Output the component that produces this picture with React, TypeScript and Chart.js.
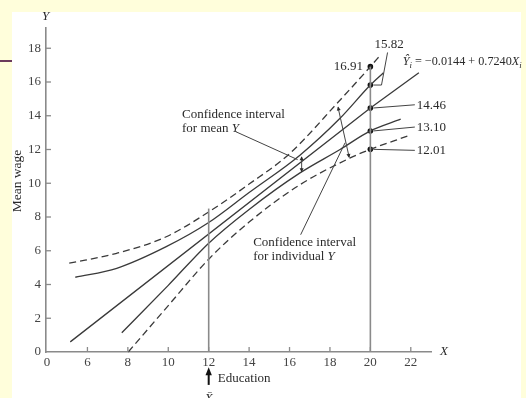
import React, { useEffect, useRef } from 'react';
import { Chart, registerables } from 'chart.js';

Chart.register(...registerables);

// ---------- data ----------
const xTickValues = [4, 6, 8, 10, 12, 14, 16, 18, 20, 22];
const xTickLabels = ['0', '6', '8', '10', '12', '14', '16', '18', '20', '22'];
const yTickValues = [0, 2, 4, 6, 8, 10, 12, 14, 16, 18];

// fitted line  Ŷ = -0.0144 + 0.7240 X (as drawn)
const regressionX = [5.15, 20, 22.4];
const regressionY = [0.6, 14.46, 16.55];

// confidence band for mean Y (solid)
const meanUpperX = [5.4, 7.45, 9.9, 12, 14, 16.5, 18.5, 20, 20.65];
const meanUpperY = [4.43, 4.96, 6.24, 7.67, 9.45, 11.65, 13.85, 15.82, 16.55];
const meanLowerX = [7.7, 10, 12, 14, 16.5, 18.5, 20, 21.5];
const meanLowerY = [1.14, 3.95, 6.45, 8.45, 10.6, 12.0, 13.1, 13.8];

// confidence band for individual Y (dashed)
const indUpperX = [5.1, 7.45, 9.9, 12, 14, 16, 18.4, 20, 20.5];
const indUpperY = [5.26, 5.85, 6.83, 8.3, 9.95, 11.75, 14.8, 16.91, 17.6];
const indLowerX = [8.02, 10, 12, 14, 16.5, 19, 20, 21.85];
const indLowerY = [0.0, 2.75, 5.5, 7.7, 9.9, 11.5, 12.01, 12.8];

// values at X = 20
const xAt = 20;
const atValues = [16.91, 15.82, 14.46, 13.1, 12.01];
const atLabels = ['16.91', '15.82', '14.46', '13.10', '12.01'];

// mean of X
const xBar = 12;
const xBarLineTop = 8.5;

const FONT = '"Liberation Serif", "DejaVu Serif", serif';
const TEXT = '#2a2a2a';
const LINE = '#3a3a3a';
const AXIS = '#8a8a8a';

const pts = (xs: number[], ys: number[]) => xs.map((x, i) => ({ x, y: ys[i] }));

type Part = [string, boolean?, boolean?]; // text, italic, subscript

function drawRich(ctx: CanvasRenderingContext2D, parts: Part[], x: number, y: number, size: number, align: 'left' | 'right' = 'left') {
  const fontFor = (it?: boolean, sub?: boolean) => `${it ? 'italic ' : ''}${sub ? size * 0.72 : size}px ${FONT}`;
  let total = 0;
  for (const [t, it, sub] of parts) { ctx.font = fontFor(it, sub); total += ctx.measureText(t).width; }
  let cx = align === 'left' ? x : x - total;
  ctx.textAlign = 'left';
  ctx.textBaseline = 'middle';
  for (const [t, it, sub] of parts) {
    ctx.font = fontFor(it, sub);
    ctx.fillText(t, cx, sub ? y + size * 0.3 : y);
    cx += ctx.measureText(t).width;
  }
}

function arrowHead(ctx: CanvasRenderingContext2D, tx: number, ty: number, fx: number, fy: number, len: number, half: number) {
  const a = Math.atan2(ty - fy, tx - fx);
  ctx.beginPath();
  ctx.moveTo(tx, ty);
  ctx.lineTo(tx - len * Math.cos(a) + half * Math.sin(a), ty - len * Math.sin(a) - half * Math.cos(a));
  ctx.lineTo(tx - len * Math.cos(a) - half * Math.sin(a), ty - len * Math.sin(a) + half * Math.cos(a));
  ctx.closePath();
  ctx.fill();
}

const backgroundPlugin = {
  id: 'slideBackground',
  beforeDraw(chart: any) {
    const ctx = chart.ctx as CanvasRenderingContext2D;
    ctx.save();
    ctx.fillStyle = '#fffedb';
    ctx.fillRect(0, 0, chart.width, chart.height);
    ctx.fillStyle = '#ffffff';
    ctx.fillRect(12, 12, 509, chart.height - 12);
    ctx.strokeStyle = '#6b3a5c';
    ctx.lineWidth = 2;
    ctx.beginPath();
    ctx.moveTo(0, 61);
    ctx.lineTo(12, 61);
    ctx.stroke();
    ctx.restore();
  },
};

const annotationPlugin = {
  id: 'figureNotes',
  afterDatasetsDraw(chart: any) {
    const ctx = chart.ctx as CanvasRenderingContext2D;
    const sx = chart.scales.x;
    const sy = chart.scales.y;
    const X = (v: number) => sx.getPixelForValue(v);
    const Y = (v: number) => sy.getPixelForValue(v);
    const seg = (pairs: number[][]) => {
      ctx.beginPath();
      pairs.forEach(([a, b], i) => (i ? ctx.lineTo(X(a), Y(b)) : ctx.moveTo(X(a), Y(b))));
      ctx.stroke();
    };
    ctx.save();
    // inner tick marks
    ctx.strokeStyle = AXIS;
    ctx.lineWidth = 1.3;
    yTickValues.slice(1).forEach((v) => {
      ctx.beginPath(); ctx.moveTo(sx.left, Y(v)); ctx.lineTo(sx.left + 5, Y(v)); ctx.stroke();
    });
    xTickValues.slice(1).forEach((v) => {
      ctx.beginPath(); ctx.moveTo(X(v), sy.bottom); ctx.lineTo(X(v), sy.bottom - 5); ctx.stroke();
    });

    ctx.fillStyle = TEXT;
    ctx.strokeStyle = '#444';
    ctx.lineWidth = 1;

    // axis letters
    drawRich(ctx, [['Y', true]], X(3.95) - 4, Y(19.85), 13);
    drawRich(ctx, [['X', true]], X(23.45), Y(0.05), 13);

    // labels at X = 20
    drawRich(ctx, [[atLabels[0]]], X(19.64), Y(16.93), 13, 'right');
    drawRich(ctx, [[atLabels[1]]], X(20.2), Y(18.2), 13);
    seg([[20.85, 17.75], [20.55, 15.82], [20.15, 15.82]]);
    drawRich(ctx, [[atLabels[2]]], X(22.3), Y(14.6), 13);
    seg([[20.15, 14.46], [22.2, 14.65]]);
    drawRich(ctx, [[atLabels[3]]], X(22.3), Y(13.28), 13);
    seg([[20.15, 13.1], [22.2, 13.33]]);
    drawRich(ctx, [[atLabels[4]]], X(22.3), Y(11.95), 13);
    seg([[20.15, 12.01], [22.2, 11.95]]);

    // equation
    drawRich(ctx, [['Ŷ', true], ['i', true, true], [' = −0.0144 + 0.7240'], ['X', true], ['i', true, true]], X(21.6), Y(17.2), 12.2);

    // confidence interval for mean Y
    drawRich(ctx, [['Confidence interval']], X(10.68), Y(14.05), 13);
    drawRich(ctx, [['for mean '], ['Y', true]], X(10.68), Y(13.25), 13);
    seg([[13.35, 13.05], [16.4, 11.4]]);
    seg([[16.6, 11.55], [16.6, 10.7]]);
    arrowHead(ctx, X(16.6), Y(11.6), X(16.6), Y(11.2), 4, 2);
    arrowHead(ctx, X(16.6), Y(10.65), X(16.6), Y(11.0), 4, 2);

    // confidence interval for individual Y
    drawRich(ctx, [['Confidence interval']], X(14.2), Y(6.46), 13);
    drawRich(ctx, [['for individual '], ['Y', true]], X(14.2), Y(5.63), 13);
    seg([[16.55, 6.95], [18.75, 12.4]]);
    seg([[18.4, 14.5], [18.95, 11.55]]);
    arrowHead(ctx, X(18.4), Y(14.55), X(18.47), Y(14.1), 4, 2);
    arrowHead(ctx, X(18.95), Y(11.5), X(18.88), Y(11.95), 4, 2);

    // Education / X-bar marker
    ctx.save();
    ctx.strokeStyle = '#111';
    ctx.lineWidth = 2;
    ctx.beginPath(); ctx.moveTo(X(xBar), Y(-1.95)); ctx.lineTo(X(xBar), Y(-1.2)); ctx.stroke();
    ctx.fillStyle = '#111';
    arrowHead(ctx, X(xBar), Y(-0.9), X(xBar), Y(-1.5), 8, 3.2);
    ctx.restore();
    ctx.fillStyle = TEXT;
    drawRich(ctx, [['Education']], X(12.45), Y(-1.55), 13);
    drawRich(ctx, [['X̄', true]], X(xBar) - 4, Y(-2.75), 13);

    // y axis title
    ctx.save();
    ctx.translate(17, 181);
    ctx.rotate(-Math.PI / 2);
    ctx.font = `13.5px ${FONT}`;
    ctx.textAlign = 'center';
    ctx.textBaseline = 'middle';
    ctx.fillText('Mean wage', 0, 0);
    ctx.restore();

    ctx.restore();
  },
};

export default function App() {
  const ref = useRef<HTMLCanvasElement>(null);
  useEffect(() => {
    document.body.style.margin = '0';
    const base = { showLine: true, pointRadius: 0, borderColor: LINE, borderWidth: 1.3, clip: false as any };
    const chart = new Chart(ref.current!, {
      type: 'scatter',
      data: {
        datasets: [
          { ...base, data: [{ x: xBar, y: 0 }, { x: xBar, y: xBarLineTop }], borderColor: AXIS, borderWidth: 1.6 },
          { ...base, data: [{ x: xAt, y: 0 }, { x: xAt, y: atValues[0] }], borderColor: AXIS, borderWidth: 1.6 },
          { ...base, data: pts(regressionX, regressionY) },
          { ...base, data: pts(meanUpperX, meanUpperY), cubicInterpolationMode: 'monotone' },
          { ...base, data: pts(meanLowerX, meanLowerY), cubicInterpolationMode: 'monotone' },
          { ...base, data: pts(indUpperX, indUpperY), cubicInterpolationMode: 'monotone', borderDash: [7, 4] },
          { ...base, data: pts(indLowerX, indLowerY), cubicInterpolationMode: 'monotone', borderDash: [7, 4] },
          {
            data: atValues.map((v) => ({ x: xAt, y: v })),
            showLine: false, pointRadius: 2.8, pointBackgroundColor: '#111', pointBorderColor: '#111', pointBorderWidth: 0, clip: false as any,
          },
        ] as any,
      },
      options: {
        responsive: false,
        animation: false,
        events: [],
        layout: { padding: { left: 0, top: 28, right: 95, bottom: 0 } },
        plugins: { legend: { display: false }, tooltip: { enabled: false }, title: { display: false } },
        scales: {
          x: {
            type: 'linear', min: 3.95, max: 23.0,
            afterBuildTicks: (s: any) => { s.ticks = xTickValues.map((v) => ({ value: v })); },
            afterFit: (s: any) => { s.height = 46; },
            ticks: {
              autoSkip: false, maxRotation: 0, padding: 3, color: '#444', font: { family: FONT, size: 13 },
              callback: (v: any) => xTickLabels[xTickValues.indexOf(Number(v))] ?? '',
            },
            grid: { drawOnChartArea: false, drawTicks: false },
            border: { display: true, color: AXIS, width: 1.6 },
          },
          y: {
            type: 'linear', min: 0, max: 19.2,
            afterBuildTicks: (s: any) => { s.ticks = yTickValues.map((v) => ({ value: v })); },
            afterFit: (s: any) => { s.width = 46; },
            ticks: { autoSkip: false, padding: 5, color: '#444', font: { family: FONT, size: 13 } },
            grid: { drawOnChartArea: false, drawTicks: false },
            border: { display: true, color: AXIS, width: 1.6 },
          },
        },
      } as any,
      plugins: [backgroundPlugin, annotationPlugin],
    });
    return () => chart.destroy();
  }, []);
  return (
    <div style={{ position: 'fixed', left: 0, top: 0, width: 526, height: 398 }}>
      <canvas ref={ref} width={526} height={398} style={{ display: 'block', width: 526, height: 398 }} />
    </div>
  );
}
